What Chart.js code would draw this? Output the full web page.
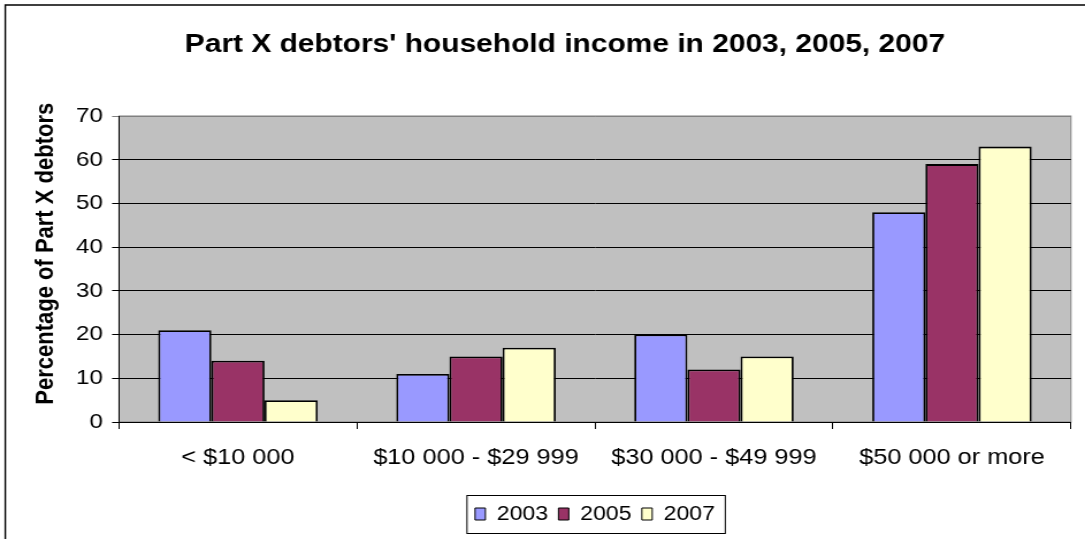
<!DOCTYPE html>
<html>
<head>
<meta charset="utf-8">
<script src="https://cdn.jsdelivr.net/npm/chart.js@4"></script>
<style>
  html, body { margin: 0; padding: 0; background: #fff; }
  /* the reference is a slightly stretched Excel chart, so draw narrower and stretch */
  #chart { display: block; width: 1085px !important; height: 539px !important; }
</style>
</head>
<body>
<canvas id="chart" width="943" height="539"></canvas>
<script>
const categories = ["< $10 000", "$10 000 - $29 999", "$30 000 - $49 999", "$50 000 or more"];
const years = ["2003", "2005", "2007"];
const values2003 = [21, 11, 20, 48];
const values2005 = [14, 15, 12, 59];
const values2007 = [5, 17, 15, 63];
const yTicks = [0, 10, 20, 30, 40, 50, 60, 70];

const FONT = "'Liberation Sans', Arial, sans-serif";

const frame = {
    id: 'frame',
    beforeDraw(chart) {
        const ctx = chart.ctx, a = chart.chartArea;
        ctx.save();
        ctx.fillStyle = '#fff';
        ctx.fillRect(0, 0, chart.width, chart.height);
        ctx.strokeStyle = '#000';
        ctx.lineWidth = 1.4;
        ctx.beginPath();
        ctx.moveTo(4.6, chart.height);
        ctx.lineTo(4.6, 5);
        ctx.lineTo(chart.width, 5);
        ctx.stroke();
        ctx.fillStyle = '#C0C0C0';
        ctx.fillRect(a.left, a.top, a.right - a.left, a.bottom - a.top);
        ctx.strokeStyle = '#808080';
        ctx.lineWidth = 1;
        ctx.strokeRect(a.left, a.top, a.right - a.left, a.bottom - a.top);
        ctx.restore();
    },
    afterDraw(chart) {
        const lg = chart.legend;
        if (!lg || !lg.legendHitBoxes.length) return;
        const boxes = lg.legendHitBoxes;
        const left = Math.min(...boxes.map(b => b.left)) - 7;
        const right = Math.max(...boxes.map(b => b.left + b.width)) + 9;
        const ctx = chart.ctx;
        ctx.save();
        ctx.strokeStyle = '#000';
        ctx.lineWidth = 1;
        ctx.strokeRect(left, lg.top + 0.5, right - left, lg.bottom - lg.top - 1);
        ctx.restore();
    }
};

new Chart(document.getElementById("chart"), {
    type: 'bar',
    data: {
        labels: categories,
        datasets: [
            { label: years[0], data: values2003, backgroundColor: "#9999FF" },
            { label: years[1], data: values2005, backgroundColor: "#993366" },
            { label: years[2], data: values2007, backgroundColor: "#FFFFCC" }
        ]
    },
    options: {
        responsive: false,
        devicePixelRatio: 1,
        animation: false,
        layout: { padding: { left: 51.2, right: 12.2, top: 0, bottom: 5 } },
        datasets: {
            bar: {
                borderColor: '#000',
                borderWidth: 1.8,
                barPercentage: 1,
                categoryPercentage: 0.67
            }
        },
        plugins: {
            title: {
                display: true,
                text: "Part X debtors' household income in 2003, 2005, 2007",
                color: '#000',
                font: { family: FONT, size: 26, weight: 'bold' },
                padding: { top: 29.4, bottom: 55.4 }
            },
            legend: {
                position: 'bottom',
                fullSize: false,
                labels: {
                    color: '#000',
                    font: { family: FONT, size: 20 },
                    boxWidth: 9,
                    boxHeight: 12,
                    padding: 9,
                    generateLabels: chart => Chart.defaults.plugins.legend.labels.generateLabels(chart)
                        .map(l => Object.assign(l, { lineWidth: 1, strokeStyle: '#000' }))
                }
            },
            tooltip: { enabled: false }
        },
        scales: {
            x: {
                afterFit: s => { s.height = 73; },
                grid: {
                    display: true,
                    offset: true,
                    drawOnChartArea: false,
                    drawTicks: true,
                    tickLength: 7,
                    color: '#000'
                },
                border: { display: true, color: '#000', width: 1 },
                ticks: {
                    color: '#000',
                    font: { family: FONT, size: 22 },
                    padding: 16,
                    maxRotation: 0,
                    autoSkip: false
                }
            },
            y: {
                min: 0,
                max: 70,
                afterFit: s => { s.width = 52.2; },
                afterBuildTicks: s => { s.ticks = yTicks.map(v => ({ value: v })); },
                grid: {
                    color: c => (c.tick && c.tick.value === 70 ? '#808080' : '#000'),
                    tickLength: 6,
                    lineWidth: 1
                },
                border: { display: true, color: '#000', width: 1 },
                ticks: {
                    color: '#000',
                    font: { family: FONT, size: 21 },
                    padding: 8
                },
                title: {
                    display: true,
                    text: '     Percentage of Part X debtors',
                    color: '#000',
                    font: { family: FONT, size: 22, weight: 'bold' },
                    padding: { top: -24.4, bottom: 0 }
                }
            }
        }
    },
    plugins: [frame]
});
</script>
</body>
</html>
